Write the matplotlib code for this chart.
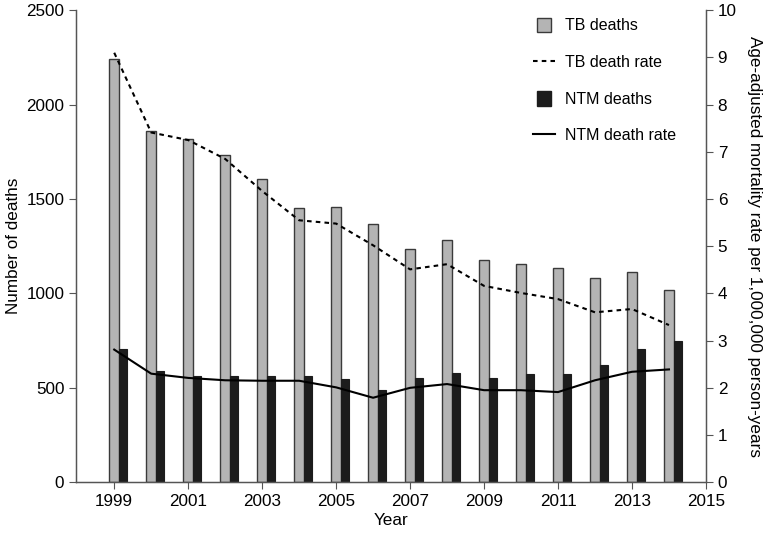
import matplotlib.pyplot as plt
from matplotlib.lines import Line2D
from matplotlib.patches import Patch, Rectangle
from matplotlib.legend_handler import HandlerPatch

plt.rcParams['font.family'] = ['Liberation Sans', 'DejaVu Sans']

years = list(range(1999, 2015))
tb_deaths = [2240, 1860, 1820, 1735, 1605, 1455, 1460, 1370,
             1235, 1285, 1178, 1155, 1135, 1082, 1112, 1020]
ntm_deaths = [708, 588, 561, 561, 561, 561, 545, 487,
              552, 581, 554, 572, 572, 623, 708, 750]
tb_rate = [9.10, 7.41, 7.25, 6.85, 6.17, 5.55, 5.48, 5.02,
           4.51, 4.62, 4.16, 4.01, 3.88, 3.60, 3.67, 3.33]
ntm_rate = [2.81, 2.30, 2.21, 2.16, 2.15, 2.15, 2.01, 1.79,
            2.00, 2.08, 1.95, 1.95, 1.91, 2.16, 2.34, 2.39]

fig = plt.figure(figsize=(7.69, 5.4), dpi=100)
ax = fig.add_axes([0.099, 0.107, 0.819, 0.874])

gray = '#b4b4b4'
dark = '#1c1c1c'
edge = '#3a3a3a'
fs = 12.3

ax.bar([y + 0.005 for y in years], tb_deaths, width=0.27, color=gray,
       edgecolor=edge, linewidth=1.0, align='center')
ax.bar([y + 0.245 for y in years], ntm_deaths, width=0.21, color=dark,
       edgecolor=dark, linewidth=0.8, align='center')

ax.set_xlim(1997.97, 2015)
ax.set_ylim(0, 2500)
ax.set_xticks(range(1999, 2016, 2))
ax.set_yticks(range(0, 2501, 500))
ax.set_xlabel('Year', fontsize=fs, labelpad=3)
ax.set_ylabel('Number of deaths', fontsize=fs, labelpad=4)
ax.spines['top'].set_visible(False)
for s in ['left', 'bottom', 'right']:
    ax.spines[s].set_color('#555555')
    ax.spines[s].set_linewidth(1.0)
ax.tick_params(labelsize=fs, color='#555555', length=5)

ax2 = ax.twinx()
ax2.plot(years, tb_rate, color='black', linestyle=(0, (2.2, 2.0)), linewidth=1.5)
ax2.plot(years, ntm_rate, color='black', linestyle='-', linewidth=1.5)
ax2.set_ylim(0, 10)
ax2.set_yticks(range(0, 11))
ax2.set_ylabel('Age-adjusted mortality rate per 1,000,000 person-years',
               fontsize=fs, rotation=270, labelpad=18)
ax2.spines['top'].set_visible(False)
for s in ['left', 'bottom', 'right']:
    ax2.spines[s].set_color('#555555')
ax2.tick_params(labelsize=fs, color='#555555', length=5)


# narrow, tall legend boxes like the original
def narrow_box(legend, orig_handle, xdescent, ydescent, width, height, fontsize):
    w = width * 0.62
    return Rectangle((-xdescent + (width - w) / 2, -ydescent), w, height)


handles = [
    Patch(facecolor=gray, edgecolor=edge, label='TB deaths'),
    Line2D([], [], color='black', linestyle=(0, (2.2, 2.0)), linewidth=1.5, label='TB death rate'),
    Patch(facecolor=dark, edgecolor=dark, label='NTM deaths'),
    Line2D([], [], color='black', linestyle='-', linewidth=1.5, label='NTM death rate'),
]
ax2.legend(handles=handles, loc='upper right', bbox_to_anchor=(0.975, 1.015),
           frameon=False, fontsize=11.5, labelspacing=1.3, handlelength=1.4,
           handleheight=1.05, handletextpad=0.6,
           handler_map={Patch: HandlerPatch(patch_func=narrow_box)})

fig.savefig('out.png', dpi=100)
